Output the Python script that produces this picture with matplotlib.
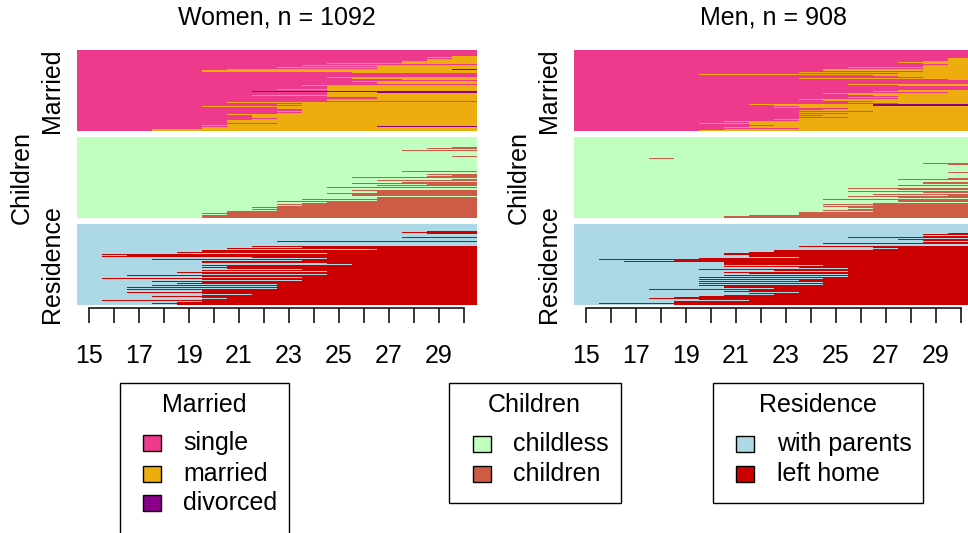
import numpy as np
import matplotlib
matplotlib.use("Agg")
import matplotlib.pyplot as plt
from matplotlib.patches import Rectangle

plt.rcParams['font.family'] = ['Liberation Sans', 'DejaVu Sans']

# ---------------- data ----------------
ages = list(range(15, 31))
tick_text = ['15', '', '17', '', '19', '', '21', '', '23', '', '25', '', '27', '', '29', '']

groups = ['Women', 'Men']
group_n = [1092, 908]

channels = ['Married', 'Children', 'Residence']

married_codes = ['S', 'M', 'D']
married_labels = ['single', 'married', 'divorced']
married_colors = ['#EE3A8C', '#EEAD0E', '#8B008B']

children_codes = ['C', 'K']
children_labels = ['childless', 'children']
children_colors = ['#C1FFC1', '#CD5B45']

residence_codes = ['P', 'L']
residence_labels = ['with parents', 'left home']
residence_colors = ['#ADD8E6', '#CD0000']

# rows of the index plot, top to bottom: (row weight, state changes "X<age>")
women_married = [
    (6, ""), (1, "M30"), (1, "M29"), (1, "M30"), (2, "M29"), (2, "M28"), (1, "M25"), (1, ""), (1, "M24"),
    (1, "M27"), (1, "M23"), (1, "M27"),
    (1, "M21 D30"), (1, "M19"), (2, "M20"),
    (1, "M26"), (4, ""),
    (1, "M25"), (1, "M26"), (1, "M28"), (1, ""), (1, "M26"), (2, "M27"), (1, ""),
    (1, "M24"), (2, "M25"), (1, "M25"), (1, "M23"), (1, "M25"),
    (1, "D22"), (1, "M25 D27"),
    (2, "M25"), (1, "M22"), (1, "M25"), (2, "M27"), (2, "M25"), (1, ""),
    (1, "M21"), (1, "M24"), (1, "M23"), (1, "M24"), (1, "M20"),
    (2, "M23"), (2, "M24"), (1, "M18"), (1, "M23"), (1, "M24"), (1, "M23"),
    (1, "M21"), (3, "M22"), (1, "M23"), (1, "M22"),
    (3, "M21"), (1, "M23"), (1, "M21"), (1, "M20"), (1, "M21 D27"), (2, "M20"), (2, "M18"),
]

women_children = [
    (10, ""), (1, "K30"), (1, "K29"), (1, ""), (1, "K28"), (5, ""), (1, "K30"), (14, ""),
    (1, "K28"), (2, ""), (1, "K29"), (1, "K30"), (1, "K29"), (1, "K26"), (1, ""), (1, "K30"),
    (1, "K27"), (1, ""), (1, "K28"), (1, "K26"), (1, "K29"), (1, "K27"), (1, ""), (1, "K25"),
    (2, ""), (1, "K26"), (2, "K27"), (1, "K25"), (2, "K26"), (1, ""),
    (2, "K27"), (1, "K24"), (1, "K27"), (1, "K23"), (1, "K25"), (1, "K24"), (1, "K23"), (1, "K24"),
    (1, "K23"), (1, "K22"), (1, "K23"), (1, "K22"), (1, "K23"), (2, "K21"), (1, "K20"), (1, "K21"),
    (3, "K20"),
]

women_residence = [
    (7, ""), (1, "L29"), (1, "L28"), (1, "L29"), (3, ""), (1, "L28"), (3, ""), (1, "L23"), (4, ""),
    (1, "L22"), (1, "L24"), (1, "L21"), (1, "L27"), (2, "L20"), (1, "L19"), (1, "L25"), (1, "L16"),
    (1, "L17"), (1, "L16"), (1, "L22"), (1, "L25"), (1, "L18"), (1, "L24"), (2, "L20"), (1, "L25"),
    (1, "L26"), (1, "L20"), (1, "L21"), (1, "L20"), (1, "L21"), (1, "L24"), (1, "L20"), (1, "L25"),
    (1, "L19"), (1, "L20"), (1, "L25"), (1, "L17"), (1, "L20"), (1, "L24"), (1, "L16"), (1, "L20"),
    (1, "L24"), (1, "L18"), (1, "L20"), (1, "L19"), (1, "L23"), (1, "L18"), (1, "L23"), (1, "L17"),
    (1, "L23"), (1, "L17"), (2, "L20"), (1, "L17"), (1, "L20"), (1, "L22"), (1, "L20"), (1, "L18"),
    (1, "L20"), (1, "L21"), (1, "L20"), (1, "L16"), (1, "L20"), (1, "L19"), (1, "L18"), (1, "L19"),
]

men_married = [
    (8, ""),
    (3, "M30"), (1, "M29"), (1, "M28"), (1, "M29"), (1, "M30"), (2, "M29"),
    (1, "M26"), (1, "M29"), (2, "M25"), (1, "M29"), (1, "M24"), (1, "M28"),
    (1, "M20"), (1, "M27"), (1, "M28"), (1, "M29"), (1, "M24"), (1, "M30"),
    (4, ""), (1, "M26"), (1, "M28"),
    (4, ""), (1, "M28"), (1, "M27"), (1, "M30"), (1, "M25"),
    (1, "M26"), (1, "M27"), (1, "M28"), (1, "M26"), (1, "M28"), (1, "M24"), (1, "M25"), (1, "M27"),
    (1, "M26"), (1, "M28"),
    (1, "M22 D27"), (1, "M23 D27"), (1, "M24"), (1, "M23"), (1, "M26"), (1, "M25"), (1, "M24"),
    (1, "M27"), (1, "M24"), (1, "M26"), (1, "M24"),
    (1, "M25"), (1, "M24"), (1, "M26"), (1, "M24"), (1, "M23"), (1, "M24"), (1, "M21"), (1, "M22"),
    (1, "M20"), (1, "M22"), (1, "M23"), (1, "M22"), (1, "M21"), (1, "M24"), (1, "M21"), (1, "M20"),
]

men_children = [
    (21, ""), (1, "K18 C19"), (4, ""), (1, "K29"), (1, "K30"), (7, ""), (1, "K30"), (5, ""),
    (1, "K30"), (1, "K28"), (2, ""), (2, "K29"), (1, ""), (1, "K28"), (2, ""), (1, "K26"),
    (1, "K28"), (1, ""), (1, "K26"), (1, "K29"), (1, ""), (1, "K27"), (1, "K30"), (1, "K26"),
    (1, "K28"), (1, ""), (1, "K25"), (2, "K28"), (1, ""), (1, "K27"), (1, "K25"), (1, "K27"),
    (1, "K25"), (1, "K26"), (1, "K27"), (1, "K26"), (1, "K25"), (1, "K27"), (3, "K24"),
    (1, "K22"), (2, "K21"),
]

men_residence = [
    (9, ""), (1, "L30"), (1, "L29"), (1, ""), (1, "L29"), (1, "L26"), (1, ""), (1, "L28"), (1, "L29"),
    (1, ""), (1, "L29"), (1, "L25"), (2, ""), (1, "L24"), (1, "L27"), (1, "L28"), (1, "L27"),
    (2, "L23"), (1, "L22"), (2, "L21"), (2, "L22"), (1, "L24"), (1, "L20"), (1, "L16"), (1, "L19"),
    (1, "L17"), (2, "L21"), (1, "L25"), (1, "L21"), (1, "L24"), (1, "L26"), (1, "L20"), (1, "L23"),
    (1, "L26"), (1, "L21"), (1, "L22"), (1, "L26"), (1, "L21"), (1, "L26"), (1, "L20"), (1, "L25"),
    (1, "L20"), (1, "L24"), (1, "L20"), (1, "L25"), (1, "L20"), (1, "L25"), (1, "L20"), (2, "L21"),
    (1, "L23"), (1, "L18"), (1, "L22"), (1, "L21"), (1, "L24"), (1, "L22"), (1, "L23"), (1, "L21"),
    (1, "L20"), (1, "L19"), (1, "L18"), (1, "L20"), (1, "L22"), (2, "L19"), (1, "L16"), (1, "L19"),
]

# ---------------- helpers ----------------
def row_runs(events, codes):
    """Return list of (start_age, end_age, state) runs for one row."""
    seq = [0] * len(ages)
    for tok in events.split():
        state = codes.index(tok[0])
        start = ages.index(int(tok[1:]))
        for j in range(start, len(ages)):
            seq[j] = state
    runs = []
    j0 = 0
    for j in range(1, len(ages) + 1):
        if j == len(ages) or seq[j] != seq[j0]:
            runs.append((ages[j0] - 0.5, ages[j - 1] + 0.5, seq[j0]))
            j0 = j
    return runs

W, H = 968, 533
fig = plt.figure(figsize=(W / 100, H / 100), dpi=100)

def px_axes(x0, y0, x1, y1):
    return fig.add_axes([x0 / W, 1 - y1 / H, (x1 - x0) / W, (y1 - y0) / H])

panel_data = {
    'Women': [women_married, women_children, women_residence],
    'Men': [men_married, men_children, men_residence],
}
chan_codes = [married_codes, children_codes, residence_codes]
chan_colors = [married_colors, children_colors, residence_colors]

x_offsets = [0, 497]
block_y = [(50, 131), (137, 218), (224, 305)]
label_x = [52, 22, 52]
label_y = [91, 177, 264]

for gi, g in enumerate(groups):
    dx = x_offsets[gi]
    x0, x1 = 76.5 + dx, 476.5 + dx
    for ci in range(3):
        yt, yb = block_y[ci]
        ax = px_axes(x0, yt, x1, yb)
        rows = panel_data[g][ci]
        cols = chan_colors[ci]
        total = sum(w for w, _ in rows)
        y = 0
        for w, ev in rows:
            for a0, a1, st in row_runs(ev, chan_codes[ci]):
                ax.add_patch(Rectangle((a0, y), a1 - a0, w, facecolor=cols[st],
                                       edgecolor='none', linewidth=0, antialiased=False))
            y += w
        ax.set_xlim(ages[0] - 0.5, ages[-1] + 0.5)
        ax.set_ylim(total, 0)
        ax.set_axis_off()
        fig.text((label_x[ci] + dx) / W, 1 - label_y[ci] / H, channels[ci],
                 rotation=90, ha='center', va='center', fontsize=18)
    # title
    fig.text((277 + dx) / W, 1 - 18 / H, f"{g}, n = {group_n[gi]}",
             ha='center', va='center', fontsize=18)
    # age axis
    axt = px_axes(x0, 308, x1, 309)
    axt.set_xlim(ages[0] - 0.5, ages[-1] + 0.5)
    axt.set_ylim(0, 1)
    for s in ['top', 'left', 'right']:
        axt.spines[s].set_visible(False)
    axt.spines['bottom'].set_position(('axes', 1.0))
    axt.spines['bottom'].set_bounds(ages[0], ages[-1])
    axt.spines['bottom'].set_linewidth(1.1)
    axt.patch.set_visible(False)
    axt.set_yticks([])
    axt.set_xticks(ages)
    axt.set_xticklabels(tick_text, fontsize=18)
    axt.tick_params(axis='x', direction='out', length=11, width=1.1, pad=15)

# ---------------- legends ----------------
ov = fig.add_axes([0, 0, 1, 1])
ov.set_xlim(0, W)
ov.set_ylim(H, 0)
ov.set_axis_off()

legend_specs = [
    (120, 289, 383, 545, 204, 151.5, 183, [443, 474, 503], channels[0], married_labels, married_colors),
    (449, 621, 383, 503, 534, 481.5, 513, [444, 474], channels[1], children_labels, children_colors),
    (713, 923, 383, 503, 818, 744.5, 777, [444, 474], channels[2], residence_labels, residence_colors),
]
for (bx0, bx1, by0, by1, tx, sx, txx, ys, title, labels, colors) in legend_specs:
    ov.add_patch(Rectangle((bx0, by0), bx1 - bx0, by1 - by0, fill=False,
                           edgecolor='black', linewidth=1.0, clip_on=False))
    ov.text(tx, 405, title, ha='center', va='center', fontsize=18)
    for yy, lab, col in zip(ys, labels, colors):
        ov.add_patch(Rectangle((sx - 9, yy - 8), 18, 16, facecolor=col,
                               edgecolor='black', linewidth=1.0))
        ov.text(txx, yy, lab, ha='left', va='center', fontsize=18)

fig.savefig('out.png', dpi=100)
